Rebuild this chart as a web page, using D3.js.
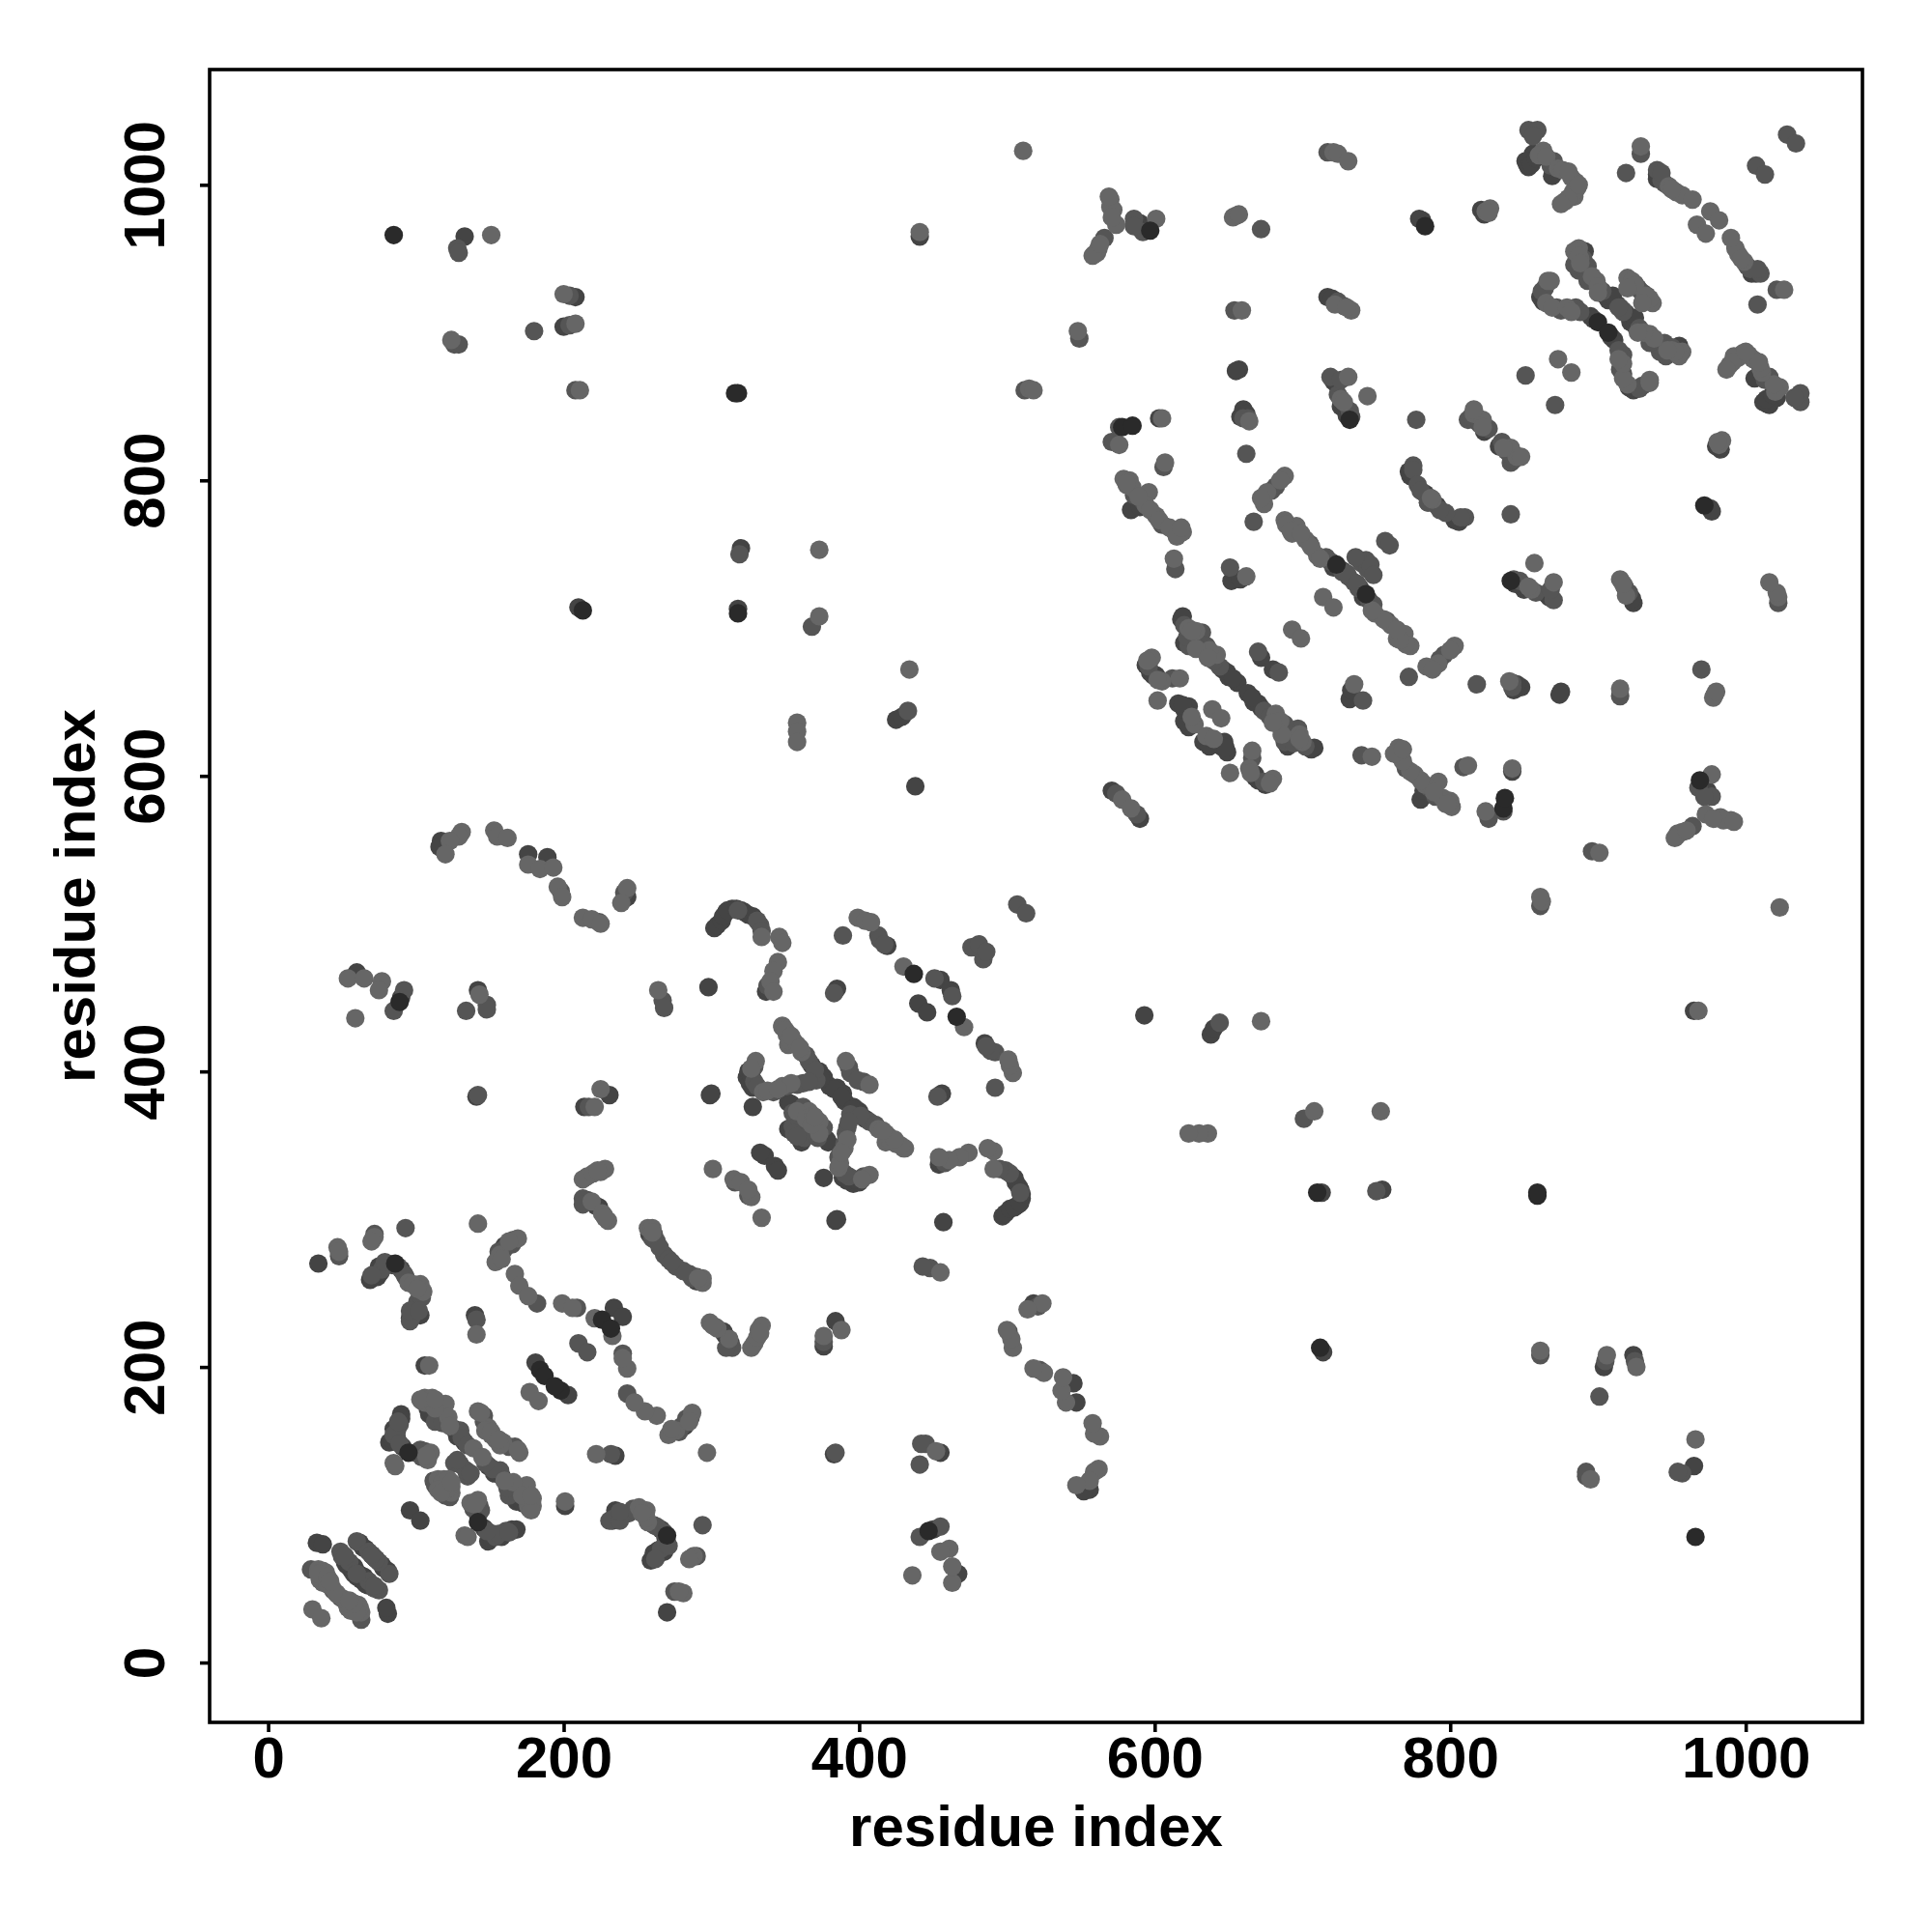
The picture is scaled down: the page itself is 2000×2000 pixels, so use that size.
<!DOCTYPE html>
<html><head><meta charset="utf-8">
<script src="https://cdn.jsdelivr.net/npm/d3@7"></script>
<style>html,body{margin:0;padding:0;background:#fff}svg{display:block}</style>
</head><body><div id="chart"></div>
<script>
// Residue contact pairs [i, j] with i < j; a contact map holds each pair at (i,j) and (j,i).
const contactsDark = [[33,81],[37,80],[62,81],[66,77],[70,73],[52,68],[56,63],[58,60],[34,270],[69,259],[74,261],[90,266],[103,235],[96,233],[140,235],[106,201],[181,203],[234,240],[90,168],[82,149],[91,146],[104,143],[100,142],[109,168],[133,149],[96,103],[224,308],[336,343],[333,345],[117,556],[116,552],[176,547],[189,545],[243,518],[302,497],[304,499],[307,502],[310,508],[314,510],[322,508],[328,505],[337,454],[60,467],[90,450],[142,455],[298,457],[141,383],[231,384],[214,376],[299,384],[300,385],[324,396],[326,392],[328,376],[352,379],[354,378],[352,361],[373,400],[375,397],[380,390],[385,389],[425,638],[429,640],[438,593],[571,590],[601,668],[616,649],[623,647],[623,633],[618,706],[649,670],[656,663],[672,680],[419,485],[455,462],[385,456],[440,446],[133,965],[208,924],[200,904],[320,754],[210,714],[318,713],[441,965],[588,972],[657,875],[660,846],[603,842],[584,780],[652,732],[658,733],[619,708],[852,1014],[856,1021],[869,1006],[940,1004],[781,976],[863,921],[891,955],[907,922],[913,919],[717,924],[720,923],[721,867],[823,833],[773,803],[783,791],[727,739],[851,1016],[853,1012],[855,1014],[858,1018],[940,1007],[905,925],[910,925],[861,924],[895,911],[897,909],[620,690],[646,672],[650,667],[653,666],[594,675],[597,670],[599,668],[620,637],[620,645],[619,648],[590,782],[112,166],[126,158],[128,153],[108,172],[85,158],[90,165],[87,152],[84,151],[105,141],[53,66],[58,65],[63,59],[64,78],[72,263],[76,264],[75,268],[81,270],[84,269],[100,240],[99,236],[160,282],[308,505],[311,509],[317,510],[320,509],[325,506],[368,404],[372,397],[376,396],[383,388],[325,400],[327,397],[328,389],[374,395],[258,290],[216,313],[222,309],[590,974],[594,970],[655,874],[660,848],[658,843],[662,845],[821,983],[823,980],[779,977],[721,741],[772,806],[723,865],[726,850],[730,844],[818,840]];
const contactsMid = [[60,82],[71,72],[49,75],[29,63],[48,275],[72,290],[93,294],[77,266],[79,271],[93,261],[101,244],[98,235],[96,231],[165,283],[160,280],[182,243],[141,232],[209,240],[210,216],[89,161],[85,154],[106,143],[104,177],[113,163],[130,157],[118,170],[146,167],[126,135],[112,123],[213,314],[260,287],[268,276],[261,290],[316,325],[198,522],[224,501],[241,521],[333,499],[318,509],[338,458],[92,455],[85,441],[148,445],[148,442],[134,441],[267,448],[268,443],[142,384],[217,376],[329,393],[342,386],[362,392],[371,394],[355,363],[365,371],[362,365],[366,407],[370,401],[393,403],[394,399],[433,644],[574,588],[596,674],[612,666],[632,697],[623,688],[632,689],[644,674],[670,684],[389,492],[413,492],[414,489],[417,486],[383,453],[451,463],[476,484],[481,486],[507,513],[128,957],[129,954],[204,925],[180,901],[204,905],[126,892],[129,892],[208,861],[319,750],[566,964],[586,977],[592,968],[672,970],[549,896],[512,861],[654,915],[663,842],[662,818],[576,836],[571,826],[606,809],[586,790],[605,770],[667,772],[682,796],[614,740],[651,741],[368,701],[717,1022],[856,1036],[870,1016],[929,1021],[919,1008],[940,1010],[945,1001],[1028,1034],[1007,1013],[851,871],[777,841],[864,930],[875,915],[885,917],[887,942],[893,945],[927,930],[724,921],[728,918],[732,847],[812,841],[818,843],[775,810],[731,735],[740,744],[756,759],[716,748],[853,1037],[859,1037],[856,1033],[868,1013],[943,1003],[943,1008],[890,950],[884,946],[892,940],[903,928],[915,917],[917,914],[893,935],[862,928],[872,917],[888,914],[930,927],[933,925],[620,702],[627,693],[622,694],[635,688],[640,678],[592,786],[679,793],[116,170],[118,162],[131,152],[135,147],[115,175],[146,163],[87,156],[88,163],[89,148],[104,139],[103,144],[113,120],[120,118],[130,134],[128,137],[44,49],[38,57],[50,72],[55,68],[52,72],[60,60],[68,75],[73,70],[70,262],[88,268],[92,263],[104,247],[96,238],[102,238],[156,278],[166,286],[331,502],[334,495],[356,420],[364,411],[329,403],[331,390],[351,390],[358,391],[366,393],[355,372],[362,376],[360,366],[356,358],[263,285],[265,281],[271,273],[213,310],[586,972],[660,842],[705,757],[719,745],[727,738],[730,737],[743,746],[736,748],[814,843],[820,838],[826,835],[775,807],[778,797],[780,793],[785,785],[719,870],[724,858],[733,843],[726,868]];
const contactsLight = [[30,36],[34,63],[37,62],[39,61],[37,54],[35,56],[40,53],[43,51],[47,46],[47,281],[48,278],[72,288],[70,285],[95,257],[103,256],[105,251],[142,297],[169,287],[157,276],[154,271],[167,263],[170,255],[176,248],[141,222],[109,201],[177,183],[199,243],[206,240],[221,233],[86,133],[108,137],[106,179],[111,179],[120,175],[122,166],[139,145],[149,159],[151,154],[115,124],[119,124],[120,122],[225,332],[216,329],[213,327],[220,331],[219,312],[230,299],[227,303],[257,294],[260,294],[301,334],[315,327],[320,325],[131,562],[129,559],[123,556],[120,547],[153,563],[155,559],[162,558],[176,540],[184,537],[193,538],[196,525],[199,518],[213,504],[219,503],[225,500],[243,524],[239,514],[334,491],[346,491],[348,487],[345,474],[342,468],[340,461],[342,454],[54,463],[65,463],[77,461],[75,455],[59,436],[143,452],[264,455],[225,388],[221,376],[348,430],[352,425],[352,418],[330,407],[327,402],[335,386],[348,390],[354,392],[366,373],[348,431],[351,425],[353,421],[358,418],[361,413],[391,407],[358,636],[358,630],[358,623],[434,672],[578,584],[598,680],[605,664],[617,666],[602,651],[627,635],[639,645],[623,700],[642,682],[628,698],[637,685],[693,699],[399,504],[404,502],[408,501],[430,471],[151,966],[200,926],[208,906],[124,895],[211,861],[511,1023],[441,968],[570,990],[572,983],[574,973],[561,954],[559,953],[601,977],[655,979],[548,901],[515,862],[659,915],[576,824],[605,842],[607,812],[579,801],[583,800],[596,792],[594,783],[601,776],[613,766],[616,766],[619,765],[688,803],[676,792],[674,784],[688,773],[693,764],[613,747],[662,735],[373,753],[373,708],[721,1022],[724,1021],[731,1016],[863,1023],[882,1005],[885,1002],[884,992],[878,989],[929,1026],[953,995],[957,993],[964,990],[976,982],[967,973],[824,982],[873,882],[868,935],[887,957],[899,935],[888,950],[920,937],[733,915],[731,870],[726,855],[744,857],[816,845],[822,841],[696,769],[702,760],[710,749],[714,721],[706,755],[860,1020],[865,1019],[873,1011],[876,1010],[880,1009],[886,998],[883,995],[880,991],[887,1000],[875,987],[948,999],[950,997],[884,955],[887,952],[888,947],[896,938],[900,931],[900,927],[866,935],[865,920],[869,917],[879,917],[882,914],[923,935],[925,932],[625,698],[628,686],[636,680],[595,678],[602,665],[625,640],[581,797],[585,795],[589,789],[597,780],[603,773],[610,768],[615,762],[618,768],[685,800],[672,788],[106,176],[110,175],[113,172],[123,160],[103,178],[113,178],[142,170],[147,157],[151,156],[144,169],[110,142],[107,140],[116,119],[118,122],[115,117],[122,124],[85,135],[34,60],[40,58],[42,55],[98,256],[101,253],[163,285],[158,273],[350,428],[354,424],[360,416],[338,387],[345,388],[358,373],[364,368],[369,370],[260,291],[228,334],[223,333],[226,304],[228,301],[570,985],[571,978],[569,992],[562,957],[558,952],[563,960],[653,978],[657,980],[518,861],[664,840],[827,984],[826,981],[581,798],[689,770],[692,766],[699,764],[712,747],[816,848],[822,836],[788,787],[722,919],[730,917],[728,853],[920,930]];
const contactsDarkest = [[86,270],[184,198],[187,194],[226,232],[95,142],[89,447],[437,466],[85,966],[316,859],[318,859],[213,712],[318,710],[578,836],[585,837],[597,969],[783,972],[900,907],[732,841],[723,743]];

const shadeGroups = [
  {pairs: contactsDark, fill: "#444444"},
  {pairs: contactsMid, fill: "#555555"},
  {pairs: contactsLight, fill: "#666666"},
  {pairs: contactsDarkest, fill: "#2a2a2a"}
];
const tickValues = [0, 200, 400, 600, 800, 1000];
const axisTitle = "residue index";

const svg = d3.select("#chart").append("svg").attr("width", 2000).attr("height", 2000);
const plotLeft = 217, plotRight = 1928, plotTop = 72, plotBottom = 1783;
const x = d3.scaleLinear().domain([-39.6, 1079]).range([plotLeft, plotRight]);
const y = d3.scaleLinear().domain([-40.5, 1078]).range([plotBottom, plotTop]);
const font = "'Liberation Sans', Arial, sans-serif";

shadeGroups.forEach(g => {
  const both = g.pairs.flatMap(([i, j]) => [[i, j], [j, i]]);
  svg.append("g").selectAll("circle").data(both).join("circle")
    .attr("cx", d => x(d[0])).attr("cy", d => y(d[1])).attr("r", 9.6).attr("fill", g.fill);
});

svg.append("rect").attr("x", plotLeft).attr("y", plotTop).attr("width", plotRight - plotLeft).attr("height", plotBottom - plotTop)
  .attr("fill", "none").attr("stroke", "#000").attr("stroke-width", 3.6);

const gx = svg.append("g").attr("transform", `translate(0,${plotBottom})`)
  .call(d3.axisBottom(x).tickValues(tickValues).tickSize(10).tickSizeOuter(0).tickFormat(d3.format("d")));
const gy = svg.append("g").attr("transform", `translate(${plotLeft},0)`)
  .call(d3.axisLeft(y).tickValues(tickValues).tickSize(10).tickSizeOuter(0).tickFormat(d3.format("d")));
[gx, gy].forEach(g => {
  g.select(".domain").remove();
  g.selectAll(".tick line").attr("stroke", "#000").attr("stroke-width", 3.6);
  g.selectAll("text").attr("font-family", font).attr("font-weight", "bold").attr("font-size", 60).attr("fill", "#000");
});
gx.selectAll("text").attr("dy", null).attr("text-anchor", "middle").attr("y", 1840 - plotBottom);
gy.selectAll("text").attr("x", null).attr("dy", null).attr("text-anchor", "middle")
  .attr("transform", `translate(${170 - plotLeft},0) rotate(-90)`);

svg.append("text").attr("x", (plotLeft + plotRight) / 2).attr("y", 1911).attr("text-anchor", "middle")
  .attr("font-family", font).attr("font-weight", "bold").attr("font-size", 60).text(axisTitle);
svg.append("text").attr("transform", `translate(98,${(plotTop + plotBottom) / 2}) rotate(-90)`).attr("text-anchor", "middle")
  .attr("font-family", font).attr("font-weight", "bold").attr("font-size", 60).text(axisTitle);
</script></body></html>
